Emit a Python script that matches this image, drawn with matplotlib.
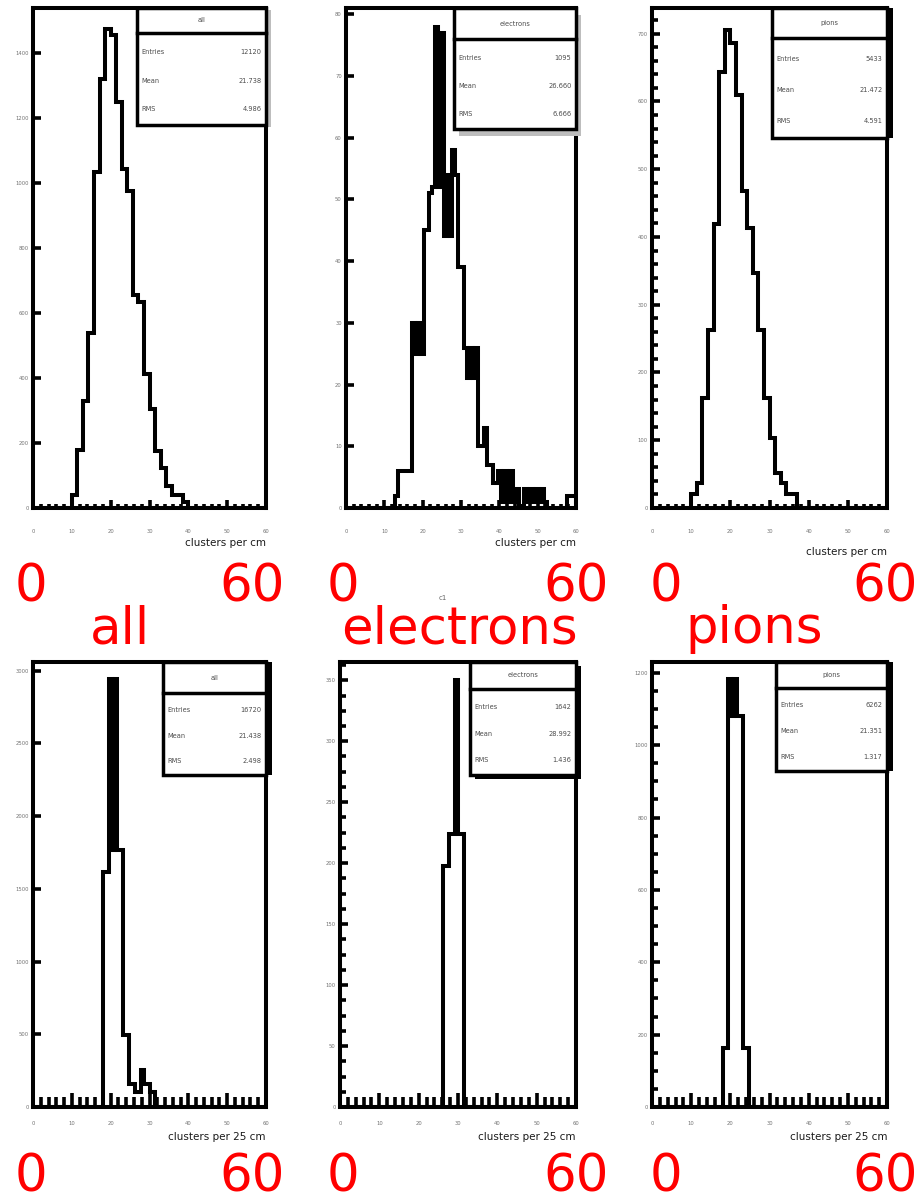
import numpy as np
import matplotlib
matplotlib.use("Agg")
import matplotlib.pyplot as plt
from matplotlib.patches import Rectangle
from matplotlib.ticker import MultipleLocator, NullLocator

W, H = 917, 1195

# ---------------- data ----------------
x_lo, x_hi = 0, 60

all_per_cm = [0] * 7 + [40, 180, 330, 538, 1034, 1320, 1474, 1456, 1250, 1044, 976,
                        656, 636, 414, 304, 176, 124, 68, 40, 40, 20] + [0] * 14
electrons_per_cm = ([0] * 17 + [2] + [6] * 5 +
                    [30, 25, 30, 25, 45, 45, 51, 52, 78, 52, 77, 44, 54, 44, 58, 54,
                     39, 39, 26, 21, 26, 21, 26, 10, 10, 13, 7, 7, 4, 4,
                     6, 1, 6, 1, 6, 1, 3, 0, 0, 3, 1, 3, 1, 3, 1, 3, 1] +
                    [0] * 7 + [2, 2, 2])
pions_per_cm = [0] * 7 + [20, 37, 163, 262, 419, 644, 706, 687, 609, 468, 413, 347,
                          262, 163, 104, 52, 37, 20, 20] + [0] * 16
all_per_25cm = [0] * 24 + [1615, 1615, 2945, 1765, 2945, 1765, 1765, 495, 495,
                           160, 160, 105, 105, 255, 160, 160, 105, 105] + [0] * 38
electrons_per_25cm = [0] * 35 + [198, 198, 224, 224, 350, 224, 224] + [0] * 38
pions_per_25cm = [0] * 24 + [162, 162, 1184, 1082, 1184, 1082, 1082, 162, 162] + [0] * 47

particle_labels = ["all", "electrons", "pions"]
x_titles = ["clusters per cm", "clusters per 25 cm"]
x_tick_values = [0, 10, 20, 30, 40, 50, 60]
y_max = [1540, 81, 738, 3060, 365, 1230]
y_step = [200, 10, 100, 500, 50, 200]
y_minor_step = [0, 0, 20, 0, 12.5, 50]

series = [all_per_cm, electrons_per_cm, pions_per_cm,
          all_per_25cm, electrons_per_25cm, pions_per_25cm]

# ---------------- layout (pixels) ----------------
panel_px = [(33, 8, 266, 508), (346, 8, 576, 508), (652, 8, 887, 508),
            (33, 662, 266, 1107), (340, 662, 576, 1107), (652, 662, 887, 1107)]
# stats box: x0, y0 (axes fraction), separator y, shadow color, dx, dy
stat_box = [(0.446, 0.766, 0.950, "#bdbdbd", 0.022, 0.004),
            (0.470, 0.758, 0.938, "#bdbdbd", 0.020, 0.013),
            (0.511, 0.740, 0.940, "black", 0.025, 0.0),
            (0.558, 0.746, 0.930, "black", 0.025, 0.0),
            (0.551, 0.746, 0.940, "black", 0.020, 0.008),
            (0.528, 0.755, 0.942, "black", 0.025, 0.0)]

LW = 2.9
plt.rcParams["font.family"] = ["DejaVu Sans"]
fig = plt.figure(figsize=(W / 100, H / 100), dpi=100)


def fx(px):
    return px / W


def fy(py):
    return 1 - py / H


for i, counts in enumerate(series):
    l, t, r, b = panel_px[i]
    ax = fig.add_axes([fx(l), fy(b), (r - l) / W, (b - t) / H])
    counts = np.asarray(counts, dtype=float)
    edges = np.linspace(x_lo, x_hi, len(counts) + 1)
    ax.stairs(counts, edges, color="black", lw=LW, baseline=0, zorder=3)
    ax.set_xlim(x_lo, x_hi)
    ax.set_ylim(0, y_max[i])
    for sp in ax.spines.values():
        sp.set_linewidth(LW)
        sp.set_zorder(6)

    top_row = i < 3
    ax.set_xticks(x_tick_values)
    ax.xaxis.set_minor_locator(MultipleLocator(2))
    ax.yaxis.set_major_locator(MultipleLocator(y_step[i]))
    if y_minor_step[i]:
        ax.yaxis.set_minor_locator(MultipleLocator(y_minor_step[i]))
    else:
        ax.yaxis.set_minor_locator(NullLocator())
    ax.yaxis.set_major_formatter(lambda v, p: f"{int(round(v))}")
    ax.tick_params(axis="both", which="both", direction="in", width=2.6,
                   top=False, right=False, labelsize=3.8, labelcolor="0.45")
    ax.tick_params(axis="x", which="major", length=6 if top_row else 10,
                   pad=15 if top_row else 10)
    ax.tick_params(axis="x", which="minor", length=3 if top_row else 7)
    ax.tick_params(axis="y", which="major", length=6, pad=3)
    ax.tick_params(axis="y", which="minor", length=4)

    # stats box
    x0, y0, ys, shc, dx, dy = stat_box[i]
    w = 1.0 - x0
    h = 1.0 - y0
    ax.add_patch(Rectangle((x0 + dx, y0 - dy), w, h, transform=ax.transAxes,
                           facecolor=shc, edgecolor="none", clip_on=False, zorder=7))
    ax.add_patch(Rectangle((x0, y0), w, h, transform=ax.transAxes,
                           facecolor="white", edgecolor="black", lw=2.5,
                           clip_on=False, zorder=8))
    ax.plot([x0, 1.0], [ys, ys], transform=ax.transAxes, color="black",
            lw=2.5, clip_on=False, zorder=9)
    centers = 0.5 * (edges[:-1] + edges[1:])
    n = counts.sum()
    mean = (counts * centers).sum() / n
    rms = np.sqrt((counts * (centers - mean) ** 2).sum() / n)
    name = particle_labels[i % 3]
    ax.text(x0 + w / 2, (ys + 1.0) / 2, name, transform=ax.transAxes,
            ha="center", va="center", fontsize=4.8, color="0.3", zorder=10)
    rows = [("Entries", f"{int(n)}"), ("Mean", f"{mean:.3f}"), ("RMS", f"{rms:.3f}")]
    for k, (lab, val) in enumerate(rows):
        yy = ys - (ys - y0) * (0.21 + 0.31 * k)
        ax.text(x0 + 0.02, yy, lab, transform=ax.transAxes, ha="left",
                va="center", fontsize=4.8, color="0.3", zorder=10)
        ax.text(1.0 - 0.02, yy, val, transform=ax.transAxes, ha="right",
                va="center", fontsize=4.8, color="0.3", zorder=10)

    # x-axis title (ROOT style, right aligned)
    title_y = 543 if top_row else 1137
    if i == 2:
        title_y = 552
    fig.text(fx(r), fy(title_y), x_titles[0 if top_row else 1], ha="right",
             va="center", fontsize=7.5, color="0.1")

# big red annotations
red = dict(color="red", fontsize=37, ha="center", va="baseline",
           family="DejaVu Sans")
for cx0, cx60 in [(31, 252), (343, 576), (666, 885)]:
    fig.text(fx(cx0), fy(602), "0", **red)
    fig.text(fx(cx60), fy(602), "60", **red)
    fig.text(fx(cx0), fy(1191), "0", **red)
    fig.text(fx(cx60), fy(1191), "60", **red)
for cx, lab in zip([120, 459, 754], particle_labels):
    fig.text(fx(cx), fy(643), lab, **red)

fig.text(fx(443), fy(598), "c1", ha="center", va="center", fontsize=5,
         color="0.4")

fig.savefig("out.png", dpi=100)
